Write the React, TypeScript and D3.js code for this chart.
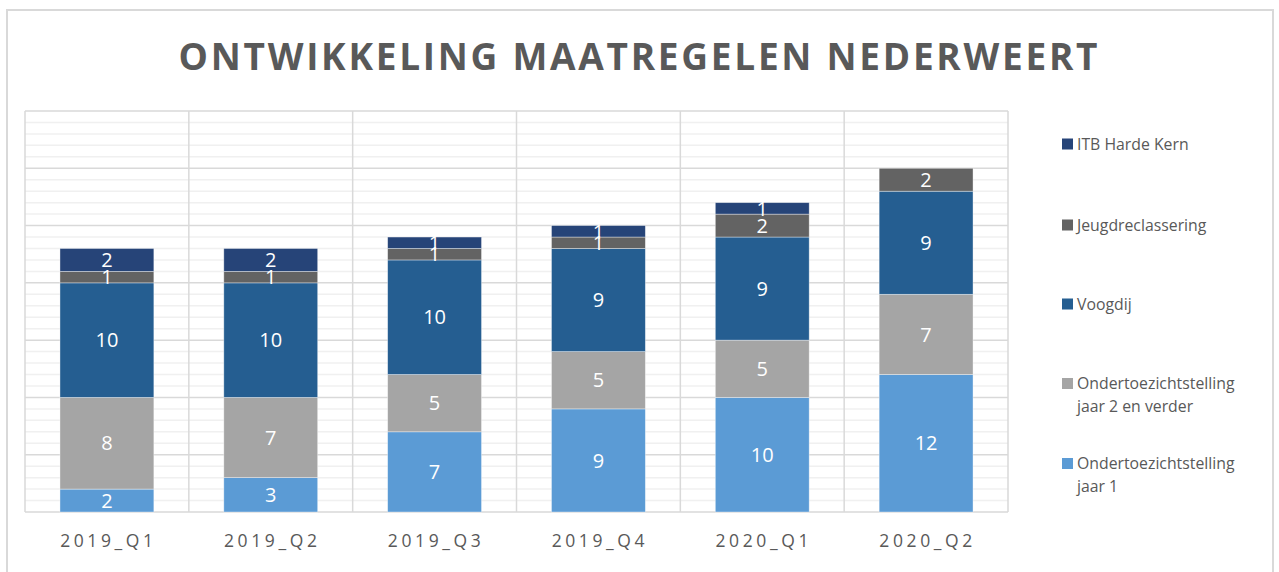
import React from "react";
import * as d3 from "d3";

const categories = ["2019_Q1", "2019_Q2", "2019_Q3", "2019_Q4", "2020_Q1", "2020_Q2"];
const seriesNames = [
  "Ondertoezichtstelling jaar 1",
  "Ondertoezichtstelling jaar 2 en verder",
  "Voogdij",
  "Jeugdreclassering",
  "ITB Harde Kern",
];
const otsJaar1 = [2, 3, 7, 9, 10, 12];
const otsJaar2 = [8, 7, 5, 5, 5, 7];
const voogdij = [10, 10, 10, 9, 9, 9];
const jeugdreclassering = [1, 1, 1, 1, 2, 2];
const itbHardeKern = [2, 2, 1, 1, 1, 0];
const seriesColors = ["#5B9BD5", "#A5A5A5", "#255E91", "#636363", "#264478"];
const legendLines = [
  ["Ondertoezichtstelling", "jaar 1"],
  ["Ondertoezichtstelling", "jaar 2 en verder"],
  ["Voogdij"],
  ["Jeugdreclassering"],
  ["ITB Harde Kern"],
];

const W = 1279;
const H = 572;
const plot = { left: 25, right: 1008, top: 111, bottom: 512 };
const FONT = "'Open Sans', 'Noto Sans', sans-serif";
const TEXT = "#595959";

export default function App() {
  const values = [otsJaar1, otsJaar2, voogdij, jeugdreclassering, itbHardeKern];
  const rows = categories.map((c, i) => {
    const r: any = { cat: c };
    seriesNames.forEach((s, k) => (r[s] = values[k][i]));
    return r;
  });
  const stack = d3.stack<any>().keys(seriesNames)(rows);
  const x = d3.scaleBand().domain(categories).range([plot.left, plot.right]).paddingInner(0).paddingOuter(0);
  const y = d3.scaleLinear().domain([0, 35]).range([plot.bottom, plot.top]);
  const barW = x.bandwidth() * 0.573;
  const minor = d3.range(0, 36, 1).filter((v) => v % 5 !== 0);
  const major = d3.range(0, 36, 5);
  const legendY = [475, 395, 304, 225, 144];

  return (
    <svg width={W} height={H} style={{ position: "absolute", left: 0, top: 0, background: "#fff" }}>
      <rect x={7} y={10} width={1266} height={580} fill="#fff" stroke="#d9d9d9" strokeWidth={2} />
      <text
        x={638}
        y={70}
        textAnchor="middle"
        fontFamily={FONT}
        fontWeight={700}
        fontSize={37}
        fill={TEXT}
        textLength={919}
        lengthAdjust="spacing"
      >
        ONTWIKKELING MAATREGELEN NEDERWEERT
      </text>
      {minor.map((v) => (
        <line key={"mi" + v} x1={plot.left} x2={plot.right} y1={y(v)} y2={y(v)} stroke="#f0f0f0" strokeWidth={1.5} />
      ))}
      {major.map((v) => (
        <line key={"ma" + v} x1={plot.left} x2={plot.right} y1={y(v)} y2={y(v)} stroke="#d9d9d9" strokeWidth={1.5} />
      ))}
      {categories.map((c) => (
        <line key={"v" + c} x1={x(c)!} x2={x(c)!} y1={plot.top} y2={plot.bottom} stroke="#d9d9d9" strokeWidth={1.5} />
      ))}
      <line x1={plot.right} x2={plot.right} y1={plot.top} y2={plot.bottom} stroke="#d9d9d9" strokeWidth={1.5} />
      {stack.map((layer, k) => (
        <g key={layer.key}>
          {layer.map((d, i) => {
            const v = d[1] - d[0];
            if (v <= 0) return null;
            const cx = x(categories[i])! + x.bandwidth() / 2;
            return (
              <rect
                key={i}
                x={cx - barW / 2}
                y={y(d[1])}
                width={barW}
                height={y(d[0]) - y(d[1])}
                fill={seriesColors[k]}
                stroke="#ffffff"
                strokeOpacity={0.5}
                strokeWidth={0.75}
              />
            );
          })}
        </g>
      ))}
      {stack.map((layer, k) => (
        <g key={"l" + layer.key}>
          {layer.map((d, i) => {
            const v = d[1] - d[0];
            if (v <= 0) return null;
            const cx = x(categories[i])! + x.bandwidth() / 2;
            return (
              <text
                key={i}
                x={cx}
                y={(y(d[0]) + y(d[1])) / 2}
                dy="0.36em"
                textAnchor="middle"
                fontFamily={FONT}
                fontSize={20}
                fill="#ffffff"
              >
                {v}
              </text>
            );
          })}
        </g>
      ))}
      {categories.map((c) => (
        <text
          key={"t" + c}
          x={x(c)! + x.bandwidth() / 2 + 1.5}
          y={547}
          textAnchor="middle"
          fontFamily={FONT}
          fontSize={17.5}
          letterSpacing={3.6}
          fill={TEXT}
        >
          {c}
        </text>
      ))}
      {seriesNames.map((s, k) => (
        <g key={"lg" + s}>
          <rect x={1062} y={legendY[k] - (legendLines[k].length > 1 ? 11.5 + 5.5 : 5.5)} width={11} height={11} fill={seriesColors[k]} />
          <text fontFamily={FONT} fontSize={15.8} fill={TEXT}>
            {legendLines[k].map((ln, j) => (
              <tspan key={j} x={1077} y={legendY[k] - (legendLines[k].length > 1 ? 11.5 : 0) + j * 23} dy="0.36em">
                {ln}
              </tspan>
            ))}
          </text>
        </g>
      ))}
    </svg>
  );
}
